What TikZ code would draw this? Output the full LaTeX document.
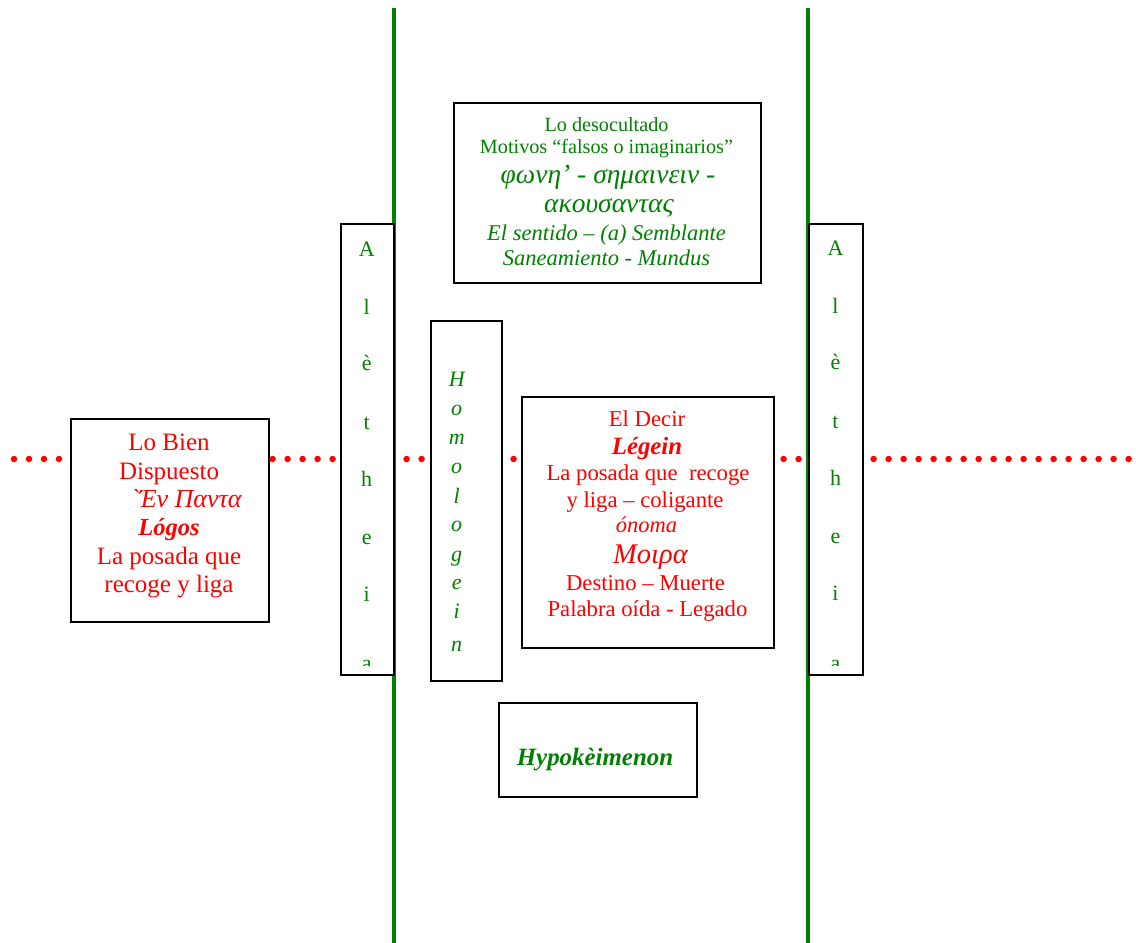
\documentclass[tikz,border=0pt]{standalone}
\usepackage{fontspec}
\setmainfont{Liberation Serif}
\definecolor{gr}{RGB}{0,128,0}
\definecolor{rd}{RGB}{255,0,0}
\begin{document}
\begin{tikzpicture}[x=1pt,y=-1pt,
  box/.style={draw=black,line width=1.6pt,fill=white,inner sep=0pt,anchor=north west},
  gline/.style={draw=gr,line width=4pt},
  dotline/.style={draw=rd,line width=6.5pt,line cap=round,dash pattern=on 0pt off 15pt},
  gtxt/.style={text=gr,inner sep=0pt,anchor=base,font=\fontsize{20.2}{24}\selectfont},
  gitxt/.style={text=gr,inner sep=0pt,anchor=base,font=\fontsize{22.5}{26}\selectfont\itshape},
  grk/.style={text=gr,inner sep=0pt,anchor=base,font=\fontsize{27.5}{30}\selectfont\itshape},
  rtxt/.style={text=rd,inner sep=0pt,anchor=base,font=\fontsize{25}{29}\selectfont},
  ctxt/.style={text=rd,inner sep=0pt,anchor=base,font=\fontsize{22.7}{26}\selectfont},
  alet/.style={text=gr,inner sep=0pt,anchor=base,font=\fontsize{22}{26}\selectfont},
  hlet/.style={text=gr,inner sep=0pt,anchor=base,font=\fontsize{22}{26}\selectfont\itshape},
]
\useasboundingbox (0,0) rectangle (1136,943);
% green vertical lines
\coordinate (g1t) at (394,8);
\coordinate (g1b) at (394,943);
\coordinate (g2t) at (807.5,8);
\coordinate (g2b) at (807.5,943);
\draw[gline] (g1t) -- (g1b);
\draw[gline] (g2t) -- (g2b);

% boxes
\node[box,minimum width=198,minimum height=203] (lb) at (70,418) {};
\node[box,minimum width=53,minimum height=451] (al) at (340,223) {};
\node[box,minimum width=71,minimum height=360] (hl) at (430,320) {};
\node[box,minimum width=307,minimum height=180] (tb) at (453,102) {};
\node[box,minimum width=252,minimum height=251] (cb) at (521,396) {};
\node[box,minimum width=54,minimum height=451] (ar) at (808,223) {};
\node[box,minimum width=198,minimum height=94] (hb) at (498,702) {};

% dotted connectors
\coordinate (s0) at (0,459);
\coordinate (s1) at (1136,459);
\draw[dotline,shorten <=14pt,shorten >=5pt] (s0) -- (lb.west |- s0);
\draw[dotline,shorten <=3pt,shorten >=5pt] (lb.east |- s0) -- (al.west |- s0);
\draw[dotline,shorten <=12pt,shorten >=5pt] (al.east |- s0) -- (hl.west |- s0);
\draw[dotline,shorten <=11pt,shorten >=4pt] (hl.east |- s0) -- (cb.west |- s0);
\draw[dotline,shorten <=9pt,shorten >=5pt] (cb.east |- s0) -- (ar.west |- s0);
\draw[dotline,shorten <=10pt,shorten >=3pt] (ar.east |- s0) -- (s1);

% top box text
\node[gtxt] (t1) at (606.5,131) {Lo desocultado};
\node[gtxt] (t2) at (606.5,153) {Motivos “falsos o imaginarios”};
\node[grk] (t3) at (608,183) {φωνη’ - σημαινειν -};
\node[grk] (t4) at (609,212) {ακουσαντας};
\node[gitxt] (t5) at (606.5,240) {El sentido – (a) Semblante};
\node[gitxt] (t6) at (606.5,265) {Saneamiento - Mundus};

% left box text
\node[rtxt] (l1) at (169,450.7) {Lo Bien};
\node[rtxt] (l2) at (169,479) {Dispuesto};
\node[rtxt,font=\fontsize{26}{29}\selectfont\itshape] (l3) at (186,507) {\textasciigrave Έν Παντα};
\node[rtxt,font=\fontsize{24.5}{29}\selectfont\bfseries\itshape] (l4) at (169,535) {Lógos};
\node[rtxt] (l5) at (169,564) {La posada que};
\node[rtxt] (l6) at (169,592.7) {recoge y liga};

% centre box text
\node[ctxt] (c1) at (647,426) {El Decir};
\node[ctxt,font=\fontsize{24.8}{28}\selectfont\bfseries\itshape] (c2) at (647,454.3) {Légein};
\node[ctxt] (c3) at (648,480.7) {La posada que~ recoge};
\node[ctxt] (c4) at (645,507.3) {y liga – coligante};
\node[ctxt,font=\fontsize{22.5}{26}\selectfont\itshape] (c5) at (646.5,532.7) {ónoma};
\node[ctxt,font=\fontsize{28.5}{32}\selectfont\itshape] (c6) at (650.5,563.3) {Μοιρα};
\node[ctxt] (c7) at (645.5,590) {Destino – Muerte};
\node[ctxt] (c8) at (647.5,616) {Palabra oída - Legado};

% Altheia letters, left (last letter cut off)
\begin{scope}
\clip (340,223) rectangle (393,665);
\foreach \c/\y [count=\i] in {A/256,l/314,è/370.7,t/429,h/486.7,e/544,i/601.7,a/670} {
  \node[alet] (al\i) at (366.7,\y) {\c};
}
\end{scope}
% Altheia letters, right (last letter cut off)
\begin{scope}
\clip (808,223) rectangle (862,665);
\foreach \c/\y [count=\i] in {A/255,l/313,è/369.7,t/428,h/485.7,e/543,i/600.7,a/670} {
  \node[alet] (ar\i) at (835.5,\y) {\c};
}
\end{scope}

% Homologein letters
\foreach \c/\y [count=\i] in {H/386.7,o/415,m/444,o/473.3,l/503.3,o/531.7,g/561.7,e/589,i/618,n/651.7} {
  \node[hlet] (h\i) at (456.7,\y) {\c};
}

% Hypokeimenon
\node[gtxt,font=\fontsize{24.9}{28}\selectfont\bfseries\itshape] (hy) at (595,765) {Hypokèimenon};
\end{tikzpicture}
\end{document}
